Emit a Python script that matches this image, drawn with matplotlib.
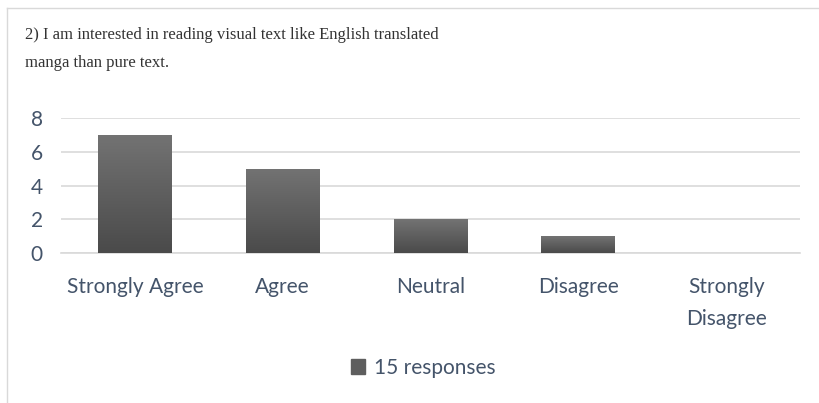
import numpy as np
import matplotlib.pyplot as plt
from matplotlib.lines import Line2D
from matplotlib.patches import Patch

categories = ['Strongly Agree', 'Agree', 'Neutral', 'Disagree', 'Strongly\nDisagree']
counts = [7, 5, 2, 1, 0]
series_name = '15 responses'
title = ('2) I am interested in reading visual text like English translated\n'
         'manga than pure text.')

text_col = '#44546a'
grid_col = '#d9d9d9'

fig = plt.figure(figsize=(8.19, 4.03), dpi=100)
ax = fig.add_axes([61 / 819, 1 - 253 / 403, (800 - 61) / 819, 135 / 403])

x = np.arange(len(categories))
bars = ax.bar(x, counts, width=0.5, color='#5e5e5e', zorder=2)

# vertical gradient on each bar, lighter at top
grad = np.linspace(0, 1, 256).reshape(-1, 1)
cmap = plt.matplotlib.colors.LinearSegmentedColormap.from_list('g', ['#4a4a4a', '#737373'])
for b in bars:
    if b.get_height() <= 0:
        continue
    x0, y0 = b.get_x(), b.get_y()
    im = ax.imshow(grad, extent=[x0, x0 + b.get_width(), y0, y0 + b.get_height()],
                   origin='lower', cmap=cmap, aspect='auto', zorder=3)
    im.set_clip_path(b)

ax.set_xlim(-0.5, len(categories) - 0.5)
ax.set_ylim(0, 8)
ax.set_yticks([0, 2, 4, 6, 8])
ax.set_xticks(x)
ax.set_xticklabels(categories, linespacing=1.75)
ax.yaxis.grid(True, color=grid_col, linewidth=1.2, zorder=0)
ax.set_axisbelow(True)
for s in ['top', 'right', 'left']:
    ax.spines[s].set_visible(False)
ax.spines['bottom'].set_color(grid_col)
ax.spines['bottom'].set_linewidth(1.2)
ax.tick_params(axis='both', length=0, labelsize=15, labelcolor=text_col)
ax.tick_params(axis='y', pad=13)
ax.tick_params(axis='x', pad=17)
for lab in ax.get_xticklabels() + ax.get_yticklabels():
    lab.set_fontfamily('Lato')

fig.text(25 / 819, 1 - 49 / 403, title, family='Liberation Serif', fontsize=12,
         color='#333333', va='center', ha='left', linespacing=1.95)

fig.legend(handles=[Patch(color='#5e5e5e', label=series_name)], loc='center',
           bbox_to_anchor=(423 / 819, 1 - 368 / 403), frameon=False,
           prop={'family': 'Lato', 'size': 15}, labelcolor=text_col,
           handlelength=0.7, handleheight=0.7, handletextpad=0.4)

# chart border (left and top edges visible)
fig.add_artist(Line2D([7 / 819, 7 / 819], [0, 1 - 7.5 / 403],
                      transform=fig.transFigure, color=grid_col, lw=1))
fig.add_artist(Line2D([7 / 819, 1], [1 - 7.5 / 403, 1 - 7.5 / 403],
                      transform=fig.transFigure, color=grid_col, lw=1))

fig.savefig('out.png', dpi=100)
